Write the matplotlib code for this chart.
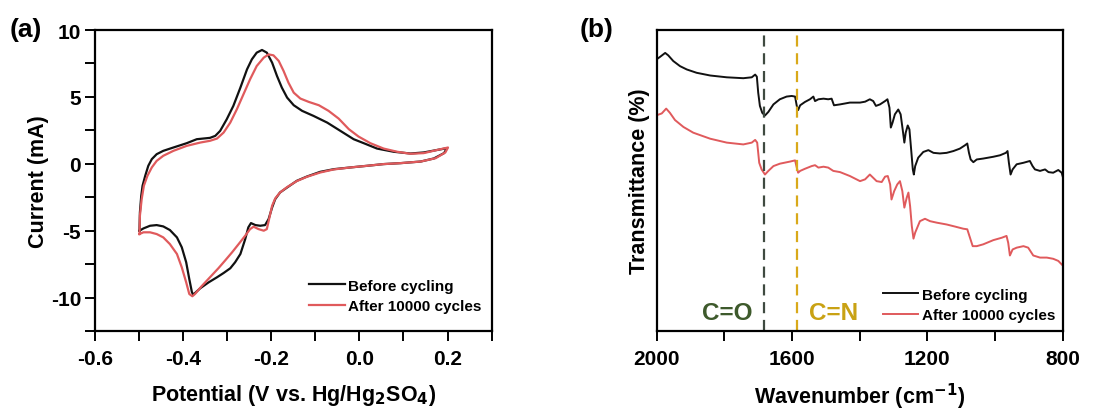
import matplotlib.pyplot as plt
from matplotlib.ticker import MultipleLocator

plt.rcParams['font.family'] = 'Liberation Sans'
plt.rcParams['font.weight'] = 'bold'
plt.rcParams['axes.labelweight'] = 'bold'
plt.rcParams['mathtext.default'] = 'bf'

# CV loops: potential (V vs. Hg/Hg2SO4) and current (mA)
cv_before_v = [-0.499, -0.498, -0.495, -0.492, -0.486, -0.479, -0.471, -0.460, -0.445, -0.422,
               -0.392, -0.369, -0.339, -0.327, -0.316, -0.301, -0.286, -0.270, -0.255, -0.244,
               -0.233, -0.221, -0.210, -0.198, -0.187, -0.176, -0.164, -0.149, -0.130, -0.104,
               -0.073, -0.043, -0.013, 0.010, 0.040, 0.078, 0.116, 0.146, 0.177, 0.199,
               0.192, 0.169, 0.139, 0.093, 0.055, 0.017, -0.020, -0.058, -0.089, -0.119,
               -0.142, -0.164, -0.180, -0.191, -0.198, -0.206, -0.214, -0.225, -0.236, -0.246,
               -0.252, -0.259, -0.270, -0.282, -0.293, -0.308, -0.323, -0.342, -0.361, -0.377,
               -0.380, -0.386, -0.393, -0.403, -0.414, -0.430, -0.445, -0.460, -0.475, -0.490,
               -0.499]
cv_before_i = [-5.00, -3.63, -2.39, -1.64, -0.90, -0.15, 0.35, 0.72, 0.97, 1.22,
               1.54, 1.84, 1.94, 2.09, 2.46, 3.33, 4.33, 5.70, 7.06, 7.81,
               8.31, 8.51, 8.31, 7.56, 6.57, 5.70, 4.95, 4.38, 3.96, 3.58,
               3.08, 2.46, 1.84, 1.54, 1.14, 0.90, 0.77, 0.85, 1.04, 1.17,
               0.80, 0.40, 0.17, 0.05, -0.02, -0.15, -0.27, -0.40, -0.60, -0.95,
               -1.27, -1.77, -2.14, -2.64, -3.26, -4.13, -4.58, -4.63, -4.58, -4.43,
               -4.75, -5.62, -6.74, -7.36, -7.81, -8.16, -8.48, -8.86, -9.30, -9.78,
               -9.60, -8.61, -7.36, -6.24, -5.50, -4.95, -4.68, -4.58, -4.63, -4.83,
               -5.00]

cv_after_v = [-0.499, -0.498, -0.494, -0.489, -0.481, -0.471, -0.460, -0.445, -0.422, -0.392,
              -0.361, -0.339, -0.323, -0.308, -0.293, -0.278, -0.263, -0.248, -0.233, -0.217,
              -0.206, -0.195, -0.183, -0.172, -0.161, -0.149, -0.134, -0.115, -0.092, -0.070,
              -0.047, -0.024, -0.002, 0.025, 0.055, 0.086, 0.116, 0.146, 0.177, 0.201,
              0.195, 0.173, 0.139, 0.093, 0.055, 0.017, -0.020, -0.058, -0.089, -0.119,
              -0.142, -0.164, -0.180, -0.191, -0.198, -0.204, -0.210, -0.217, -0.229, -0.240,
              -0.248, -0.259, -0.274, -0.289, -0.305, -0.320, -0.339, -0.358, -0.373, -0.379,
              -0.386, -0.393, -0.403, -0.414, -0.430, -0.445, -0.460, -0.475, -0.490, -0.499]
cv_after_i = [-5.25, -3.88, -2.64, -1.64, -0.90, -0.27, 0.22, 0.60, 0.97, 1.34,
              1.59, 1.72, 1.89, 2.34, 3.08, 4.08, 5.20, 6.32, 7.31, 7.94,
              8.18, 8.11, 7.69, 6.94, 6.07, 5.32, 4.88, 4.63, 4.38, 3.96,
              3.38, 2.59, 2.04, 1.54, 1.14, 0.90, 0.75, 0.80, 1.04, 1.22,
              0.85, 0.42, 0.17, 0.05, -0.02, -0.15, -0.27, -0.42, -0.65, -0.97,
              -1.29, -1.74, -2.14, -2.59, -3.13, -4.00, -4.88, -5.00, -4.88, -4.70,
              -4.88, -5.37, -6.00, -6.62, -7.24, -7.81, -8.48, -9.15, -9.73, -9.90,
              -9.73, -8.86, -7.74, -6.74, -6.00, -5.50, -5.25, -5.12, -5.12, -5.25]

# FTIR spectra (arbitrary transmittance units)
ir_before_wn = [2000, 1990, 1975, 1966, 1951, 1931, 1911, 1882, 1842, 1793, 1744, 1719, 1709,
                1704, 1700, 1695, 1688, 1680, 1670, 1655, 1636, 1616, 1601, 1591, 1586, 1582,
                1576, 1562, 1547, 1537, 1532, 1522, 1507, 1493, 1483, 1476, 1458, 1429, 1399,
                1384, 1370, 1360, 1352, 1340, 1325, 1318, 1312, 1308, 1303, 1296, 1286, 1279,
                1273, 1268, 1264, 1258, 1253, 1248, 1243, 1240, 1236, 1227, 1212, 1197, 1182,
                1163, 1143, 1123, 1104, 1089, 1082, 1077, 1072, 1064, 1054, 1035, 1005, 985,
                968, 963, 959, 954, 948, 936, 916, 897, 889, 882, 867, 852, 842, 828, 813,
                803, 800]
ir_before_t = [90.3, 91.1, 92.4, 91.6, 89.7, 88.0, 86.9, 85.8, 84.9, 84.3, 84.0, 84.3, 85.2,
               84.5, 79.2, 74.8, 72.5, 71.6, 72.8, 75.3, 77.0, 77.9, 78.1, 77.9, 74.8, 73.4,
               75.0, 76.1, 77.0, 77.9, 76.4, 77.0, 77.2, 77.0, 77.2, 75.0, 75.3, 75.9, 75.9,
               76.2, 77.0, 76.4, 74.8, 75.3, 76.4, 77.0, 74.2, 67.6, 69.2, 72.0, 73.6, 72.0,
               67.0, 62.6, 65.9, 68.3, 67.0, 60.4, 53.7, 52.0, 54.8, 57.6, 59.5, 60.1, 59.2,
               59.0, 59.2, 59.8, 60.6, 61.7, 62.3, 59.2, 57.0, 56.1, 57.0, 57.3, 57.9, 58.4,
               59.2, 59.8, 55.9, 52.0, 53.7, 55.4, 55.9, 56.5, 54.8, 53.7, 53.2, 53.7, 52.8,
               52.6, 53.5, 52.6, 51.4]

ir_after_wn = [2000, 1985, 1972, 1961, 1946, 1921, 1892, 1842, 1793, 1744, 1719, 1709, 1703,
               1697, 1690, 1680, 1670, 1655, 1636, 1606, 1591, 1586, 1582, 1576, 1562, 1542,
               1532, 1522, 1507, 1493, 1478, 1458, 1429, 1399, 1384, 1370, 1360, 1350, 1335,
               1325, 1317, 1310, 1306, 1298, 1289, 1281, 1274, 1268, 1261, 1256, 1251, 1246,
               1241, 1236, 1222, 1207, 1192, 1172, 1143, 1118, 1094, 1082, 1074, 1066, 1054,
               1035, 1005, 980, 966, 961, 956, 948, 936, 916, 902, 887, 867, 847, 828, 813,
               800]
ir_after_t = [71.7, 72.3, 73.9, 72.5, 70.1, 67.8, 65.9, 63.9, 62.6, 62.0, 62.6, 63.5, 62.6,
              55.9, 53.7, 52.0, 53.2, 54.8, 55.6, 56.3, 56.7, 54.3, 52.6, 53.2, 53.9, 54.8,
              55.1, 54.3, 54.6, 54.3, 53.2, 52.8, 51.5, 49.8, 50.4, 52.0, 50.9, 49.8, 49.5,
              51.3, 51.5, 48.7, 43.7, 46.5, 48.7, 49.8, 46.5, 41.0, 44.3, 46.0, 41.5, 34.9,
              30.7, 32.7, 36.5, 37.3, 36.5, 36.0, 35.4, 34.7, 34.0, 33.8, 31.0, 28.2, 28.2,
              28.8, 30.2, 31.0, 31.6, 29.3, 25.1, 27.1, 27.7, 28.2, 27.7, 25.1, 24.4, 24.4,
              24.0, 23.3, 21.8]

peak_co = 1682
peak_cn = 1585

black = '#111111'
red = '#e05a5c'

fig = plt.figure(figsize=(11.08, 4.14), dpi=100)
ax1 = fig.add_axes([0.0857, 0.198, 0.358, 0.727])
ax2 = fig.add_axes([0.5927, 0.198, 0.3664, 0.727])

for ax in (ax1, ax2):
    for s in ax.spines.values():
        s.set_linewidth(1.6)
    ax.tick_params(which='both', direction='out', width=1.4, length=7, labelsize=15)
    ax.tick_params(axis='x', pad=6)
    ax.tick_params(axis='y', pad=3)

# (a) cyclic voltammetry
ax1.plot(cv_before_v, cv_before_i, color=black, lw=1.6, label='Before cycling')
ax1.plot(cv_after_v, cv_after_i, color=red, lw=1.6, label='After 10000 cycles')
ax1.set_xlim(-0.6, 0.3)
ax1.set_ylim(-12.5, 10)
ax1.set_xticks([-0.6, -0.4, -0.2, 0.0, 0.2])
ax1.set_xticklabels(['-0.6', '-0.4', '-0.2', '0.0', '0.2'])
ax1.xaxis.set_minor_locator(MultipleLocator(0.1))
ax1.set_yticks([-10, -5, 0, 5, 10])
ax1.set_yticklabels(['-10', '-5', '0', '5', '10'])
ax1.yaxis.set_minor_locator(MultipleLocator(2.5))
ax1.set_xlabel('Potential (V vs. Hg/Hg$_2$SO$_4$)', fontsize=15.5, labelpad=10)
ax1.set_ylabel('Current (mA)', fontsize=15.5, labelpad=1)
ax1.legend(loc='lower right', bbox_to_anchor=(0.975, 0.06), borderaxespad=0, borderpad=0,
           frameon=False, fontsize=11, handlelength=2.3, handletextpad=0.25, labelspacing=0.42)

# (b) FTIR
ax2.plot(ir_before_wn, ir_before_t, color=black, lw=1.4, label='Before cycling')
ax2.plot(ir_after_wn, ir_after_t, color=red, lw=1.4, label='After 10000 cycles')
ax2.axvline(peak_co, color='#3f4a40', lw=1.6, ls=(0, (5, 3)))
ax2.axvline(peak_cn, color='#d9a91a', lw=1.6, ls=(0, (5, 3)))
ax2.set_xlim(2000, 800)
ax2.set_ylim(0, 100)
ax2.set_xticks([2000, 1600, 1200, 800])
ax2.xaxis.set_minor_locator(MultipleLocator(200))
ax2.set_yticks([])
ax2.set_xlabel('Wavenumber (cm$^{-1}$)', fontsize=15.5, labelpad=9)
ax2.set_ylabel('Transmittance (%)', fontsize=15.5, labelpad=5)
ax2.text(1792, 6.3, 'C=O', color='#3e5a2c', fontsize=17.5, fontweight='bold', ha='center', va='center')
ax2.text(1476, 6.3, 'C=N', color='#c9a214', fontsize=17.5, fontweight='bold', ha='center', va='center')
ax2.legend(loc='lower right', bbox_to_anchor=(0.981, 0.03), borderaxespad=0, borderpad=0,
           frameon=False, fontsize=11, handlelength=2.3, handletextpad=0.25, labelspacing=0.42)

fig.text(0.009, 0.928, '(a)', fontsize=19, fontweight='bold', ha='left', va='center')
fig.text(0.523, 0.928, '(b)', fontsize=19, fontweight='bold', ha='left', va='center')

fig.savefig('out.png', dpi=100)
